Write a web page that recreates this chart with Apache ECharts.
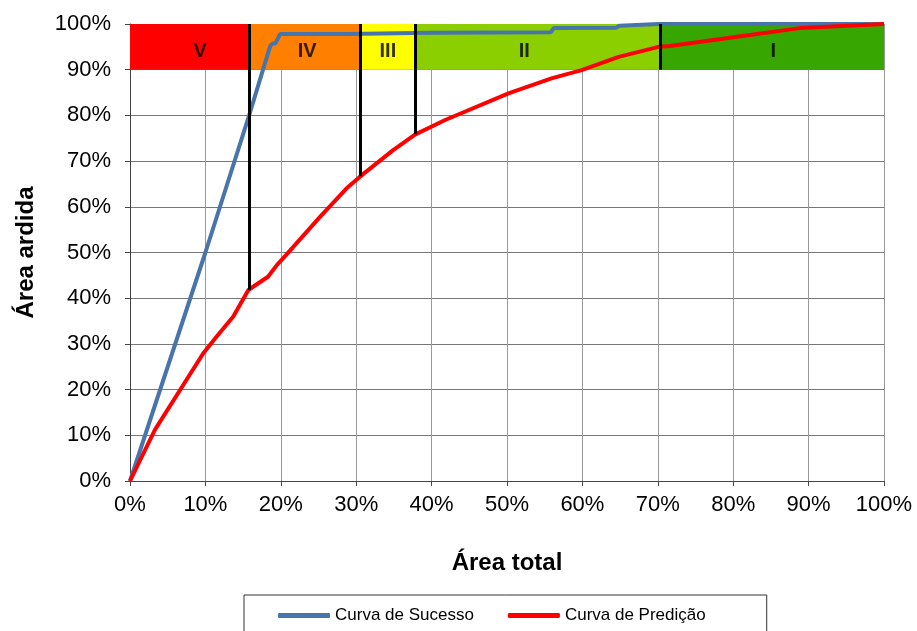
<!DOCTYPE html>
<html>
<head>
<meta charset="utf-8">
<script src="https://cdn.jsdelivr.net/npm/echarts@6/dist/echarts.min.js"></script>
<style>
  html, body { margin: 0; padding: 0; background: #fff; }
  #chart { width: 917px; height: 631px; }
</style>
</head>
<body>
<div id="chart"></div>
<script>
// curva de sucesso (x = % área total, y = % área ardida)
const successX = [0, 10, 15.8, 18.6, 18.9, 19.3, 19.9, 28.8, 40, 55.8, 56.2, 64.5, 64.9, 70.2, 100]
const successY = [0, 50, 80, 95.2, 95.7, 95.8, 97.8, 97.8, 98.1, 98.2, 99.1, 99.2, 99.6, 100, 100]

// curva de predição
const predX = [0, 3.3, 9.7, 11.5, 13.7, 15.7, 18.3, 19.5, 20.3, 25.2, 28.7, 30.5, 34.9, 37.8, 41.8, 50.2, 55.9, 59.9, 64.8, 70.1, 71.6, 82.2, 88.8, 100]
const predY = [0, 11.2, 27.9, 31.6, 36, 41.8, 44.7, 47.3, 48.7, 57.8, 64, 66.6, 72.4, 75.8, 79, 84.8, 88.1, 89.9, 92.8, 95, 95.2, 97.6, 99.1, 100]

// classes de susceptibilidade
const classNames = ['V', 'IV', 'III', 'II', 'I']
const classEdges = [0, 15.8, 30.6, 37.8, 70.3, 100]
const classColors = ['#ff0000', '#ff8000', '#ffff00', '#8ccf00', '#38a600']
const classLabelX = [9.3, 23.5, 34.2, 52.3, 85.3]
const bandBottom = 90
const bandTop = 100

// linhas verticais entre classes
const dividerX = [15.8, 30.6, 37.8, 70.3]
const dividerBottom = [41.8, 66.7, 75.9, 90]

const chart = echarts.init(document.getElementById('chart'))

const pairs = (xs, ys) => xs.map((x, i) => [x, ys[i]])

const bandAreas = classNames.map((n, i) => [
    { xAxis: classEdges[i], yAxis: bandBottom, itemStyle: { color: classColors[i] } },
    { xAxis: classEdges[i + 1], yAxis: bandTop }
])

const dividerLines = dividerX.map((x, i) => [
    { coord: [x, dividerBottom[i]] },
    { coord: [x, bandTop] }
])

const font = 'Liberation Sans, Arial, sans-serif'

chart.setOption({
    animation: false,
    textStyle: { fontFamily: font },
    grid: { left: 130, right: 33, top: 24, bottom: 150 },
    xAxis: {
        type: 'value',
        min: 0, max: 100, interval: 10,
        name: 'Área total',
        nameLocation: 'middle',
        nameGap: 70,
        nameTextStyle: { fontSize: 24, fontWeight: 'bold', color: '#000', fontFamily: font },
        axisLine: { show: true, lineStyle: { color: '#444', width: 1 } },
        axisTick: { show: true, length: 5, lineStyle: { color: '#444' } },
        axisLabel: { formatter: '{value}%', fontSize: 22, color: '#000', margin: 13, fontFamily: font },
        splitLine: { show: true, lineStyle: { color: '#999', width: 1 } }
    },
    yAxis: {
        type: 'value',
        min: 0, max: 100, interval: 10,
        name: 'Área ardida',
        nameLocation: 'middle',
        nameGap: 92,
        nameTextStyle: { fontSize: 24, fontWeight: 'bold', color: '#000', fontFamily: font },
        axisLine: { show: true, lineStyle: { color: '#444', width: 1 } },
        axisTick: { show: true, length: 5, lineStyle: { color: '#444' } },
        axisLabel: { formatter: '{value}%', fontSize: 22, color: '#000', margin: 19, fontFamily: font },
        splitLine: { show: true, lineStyle: { color: '#777', width: 1 } }
    },
    legend: {
        left: 244,
        top: 595,
        padding: [12, 61, 30, 34],
        itemGap: 34,
        itemWidth: 52,
        itemHeight: 5,
        icon: 'roundRect',
        borderColor: '#333',
        borderWidth: 1,
        borderRadius: 0,
        textStyle: { fontSize: 17, color: '#000', fontFamily: font },
        data: ['Curva de Sucesso', 'Curva de Predição']
    },
    series: [
        {
            name: 'classes',
            type: 'scatter',
            symbolSize: 0,
            z: 1,
            data: pairs(classLabelX, classLabelX.map(() => 94)),
            label: {
                show: true,
                position: 'inside',
                formatter: p => classNames[p.dataIndex],
                fontSize: 20,
                fontWeight: 'bold',
                color: '#000',
                fontFamily: font
            },
            markArea: {
                silent: true,
                itemStyle: { opacity: 1 },
                data: bandAreas
            },
            markLine: {
                silent: true,
                symbol: 'none',
                label: { show: false },
                lineStyle: { color: '#000', width: 3, type: 'solid' },
                data: dividerLines
            }
        },
        {
            name: 'Curva de Sucesso',
            type: 'line',
            symbol: 'none',
            z: 3,
            lineStyle: { color: '#4874ac', width: 4 },
            itemStyle: { color: '#4874ac' },
            data: pairs(successX, successY)
        },
        {
            name: 'Curva de Predição',
            type: 'line',
            symbol: 'none',
            z: 4,
            lineStyle: { color: '#ff0000', width: 4 },
            itemStyle: { color: '#ff0000' },
            data: pairs(predX, predY)
        }
    ]
})
</script>
</body>
</html>
